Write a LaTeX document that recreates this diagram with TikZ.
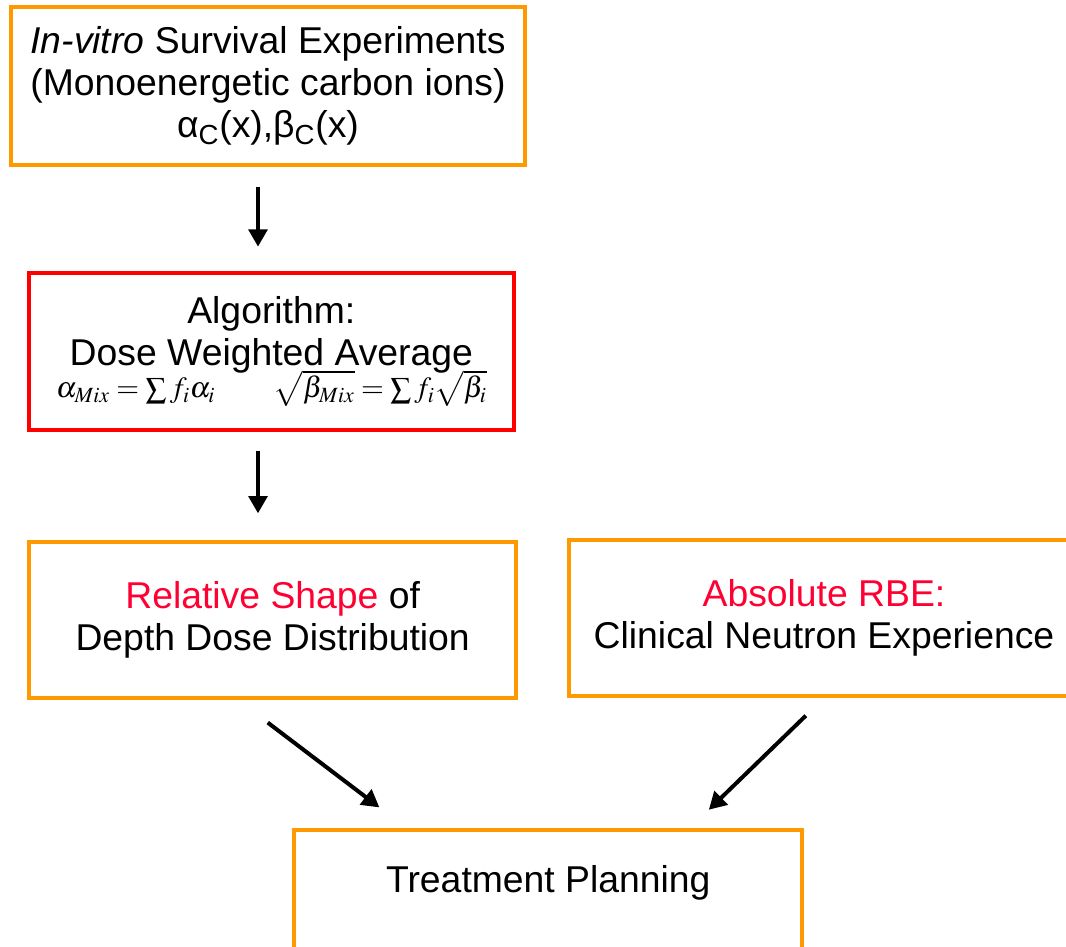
\documentclass[tikz,border=0pt]{standalone}
\usepackage{mathptmx}
\usepackage{fontspec}
\setmainfont{Liberation Sans}
\usetikzlibrary{positioning,arrows.meta,calc}
\definecolor{boxorange}{RGB}{255,153,0}
\definecolor{boxred}{RGB}{255,0,0}
\definecolor{txtred}{RGB}{255,0,51}
\tikzset{
  obox/.style={rectangle,draw=boxorange,line width=3pt,align=center,inner sep=0pt,font=\fontsize{28}{31.5}\selectfont},
  rbox/.style={obox,draw=boxred},
  flow/.style={-{Triangle[length=13pt,width=14pt]},line width=3pt}
}

\begin{document}
\begin{tikzpicture}[node distance=78pt and 37pt]
\useasboundingbox (0,0) rectangle (799.5pt,-709.5pt);
\node[obox,minimum width=386pt,minimum height=118pt] (exp) at (201pt,-64.5pt) {\textit{In-vitro} Survival Experiments\\(Monoenergetic carbon ions)\\α\textsubscript{C}(x),β\textsubscript{C}(x)};
\node[rbox,below=of exp,xshift=2.5pt,minimum width=364pt,minimum height=118pt] (alg) {Algorithm:\\Dose Weighted Average\\[-7pt]{\fontsize{22}{24}\selectfont$\alpha_{Mix}=\sum f_i\alpha_i\qquad\sqrt{\beta_{Mix}}=\sum f_i\sqrt{\beta_i}$}};

\node[obox,below=81pt of alg,xshift=1pt,minimum width=365pt,minimum height=117pt] (shape) {\textcolor{txtred}{Relative Shape} of\\Depth Dose Distribution};
\node[obox,right=of shape,yshift=1.5pt,minimum width=382pt,minimum height=117pt] (rbe) {\textcolor{txtred}{Absolute RBE:}\\Clinical Neutron Experience};

\coordinate (mid) at ($(shape.south)!0.5!(rbe.south)$);
\node[obox,below=97pt of mid,minimum width=381pt,minimum height=99pt,text height=20pt,text depth=26.5pt] (plan) {Treatment Planning};

\draw[flow,shorten <=15pt,shorten >=18pt] ([xshift=-7.5pt]exp.south) -- ([xshift=-7.5pt]exp.south |- alg.north);
\draw[flow,shorten <=14pt,shorten >=20pt] ([xshift=-10pt]alg.south) -- ([xshift=-10pt]alg.south |- shape.north);

\draw[flow,shorten <=28pt,shorten >=26pt] ([xshift=-26pt]shape.south) -- ([xshift=-106pt]plan.north);
\draw[flow,shorten <=19pt,shorten >=20pt] (rbe.south) -- ([xshift=106pt]plan.north);

\end{tikzpicture}
\end{document}
